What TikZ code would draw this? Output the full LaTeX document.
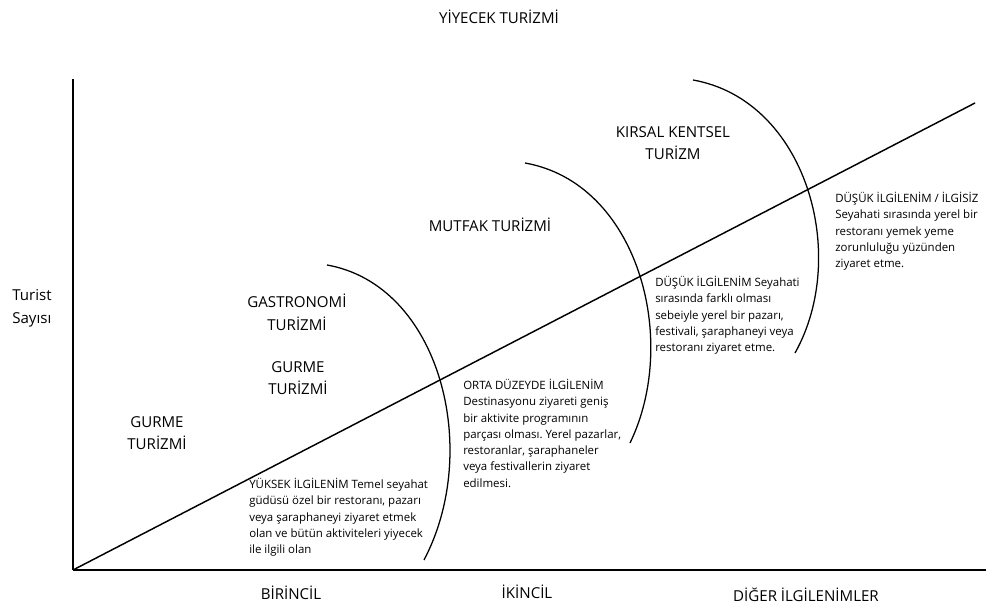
\documentclass[tikz,border=0pt]{standalone}
\usepackage{fontspec}
\setmainfont{Open Sans}
\usetikzlibrary{positioning}
\frenchspacing

\begin{document}
\begin{tikzpicture}[x=0.75pt, y=-0.75pt,
    tag/.style = {font=\fontsize{11.3}{17}\selectfont, align=center, inner sep=0pt},
    note/.style = {font=\fontsize{8.6}{12.2}\selectfont, align=left,
      inner sep=0pt, anchor=north west},
    level arc/.style = {line width=0.95pt},
  ]
  \useasboundingbox (0,0) rectangle (986,609);

  % axes
  \coordinate (O) at (73,570);
  \coordinate (ytop) at (73,79);
  \coordinate (xend) at (986,570);
  \coordinate (dend) at (975,103);

  \draw[line width=1.1pt] (ytop) -- (O);
  \draw[line width=1.6pt] (O) -- (xend);
  \draw[line width=1.1pt] (O) -- (dend);

  % arcs
  \coordinate (a1) at (327,265);
  \coordinate (b1) at (424,560);
  \coordinate (a2) at (525,163);
  \coordinate (b2) at (630,443);
  \coordinate (a3) at (693,80);
  \coordinate (b3) at (795,353);
  \draw[level arc] (a1) .. controls (440,285) and (482,450) .. (b1);
  \draw[level arc] (a2) .. controls (638,183) and (680,340) .. (b2);
  \draw[level arc] (a3) .. controls (806,100) and (850,255) .. (b3);

  % titles
  \node[tag] (title) at (499,17) {YİYECEK TURİZMİ};
  \node[tag, align=left, anchor=west] (yname) at (12,308) {Turist\\Sayısı};

  \node[tag] (gurme1) at (157,433) {GURME\\TURİZMİ};
  \node[tag] (gastro) at (297,312) {GASTRONOMİ\\TURİZMİ};
  \node[tag] (gurme2) at (298,378) {GURME\\TURİZMİ};
  \node[tag] (mutfak) at (490,225) {MUTFAK TURİZMİ};
  \node[tag] (kirsal) at (673,143) {KIRSAL KENTSEL\\TURİZM};

  \node[tag] (birincil) at (291,593) {BİRİNCİL};
  \node[tag] (ikincil) at (527,592) {İKİNCİL};
  \node[tag] (diger) at (806,595) {DİĞER İLGİLENİMLER};

  % notes
  \node[note] (yuksek) at (249,478) {YÜKSEK İLGİLENİM Temel seyahat\\
    güdüsü özel bir restoranı, pazarı\\
    veya şaraphaneyi ziyaret etmek\\
    olan ve bütün aktiviteleri yiyecek\\
    ile ilgili olan};
  \node[note] (orta) at (463,379) {ORTA DÜZEYDE İLGİLENİM\\
    Destinasyonu ziyareti geniş\\
    bir aktivite programının\\
    parçası olması. Yerel pazarlar,\\
    restoranlar, şaraphaneler\\
    veya festivallerin ziyaret\\
    edilmesi.};
  \node[note] (dusuk) at (655,276) {DÜŞÜK İLGİLENİM Seyahati\\
    sırasında farklı olması\\
    sebeiyle yerel bir pazarı,\\
    festivali, şaraphaneyi veya\\
    restoranı ziyaret etme.};
  \node[note] (ilgisiz) at (835,192) {DÜŞÜK İLGİLENİM / İLGİSİZ\\
    Seyahati sırasında yerel bir\\
    restoranı yemek yeme\\
    zorunluluğu yüzünden\\
    ziyaret etme.};
\end{tikzpicture}
\end{document}
